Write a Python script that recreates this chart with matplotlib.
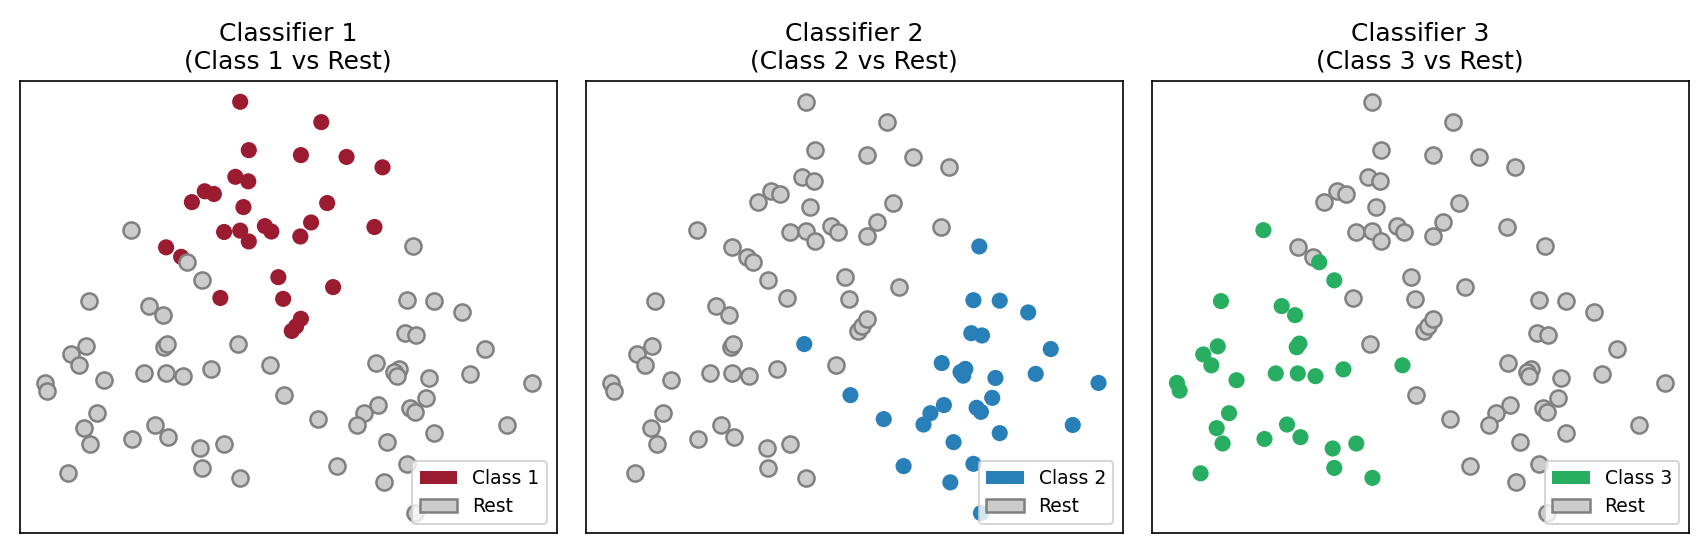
import matplotlib
matplotlib.use('Agg')
import matplotlib.pyplot as plt
from matplotlib.patches import Patch

# 三类样本的坐标
class1_x = [41.1, 42.7, 40.2, 42.6, 34.5, 36.2, 32.1, 41.7, 45.7, 46.9,
            38.1, 41.1, 42.7, 27.3, 30.1, 48.2, 37.4, 49.1, 50.7, 51.5,
            52.4, 56.2, 52.4, 60.9, 67.6, 57.3, 54.3, 52.3, 66.1, 58.4]
class1_y = [95.4, 84.7, 78.8, 77.8, 75.6, 75.0, 73.2, 72.1, 67.9, 66.7,
            66.6, 66.9, 64.5, 63.2, 61.1, 56.6, 52.0, 51.8, 44.7, 45.7,
            47.4, 90.9, 83.6, 83.2, 80.9, 73.0, 68.7, 65.6, 67.7, 54.4]

class2_x = [40.7, 49.3, 73.3, 72.2, 77.1, 82.4, 71.8, 73.8, 86.6, 66.3,
            70.7, 69.8, 70.3, 76.3, 83.8, 95.5, 75.7, 66.7, 64.2, 62.9,
            72.8, 73.6, 55.5, 90.7, 77.1, 68.5, 59.2, 72.2, 67.9, 73.6]
class2_y = [41.8, 30.5, 63.4, 51.5, 51.4, 48.8, 44.2, 43.7, 40.7, 37.6,
            36.3, 35.6, 34.8, 34.3, 35.2, 33.2, 29.9, 28.3, 26.5, 24.0,
            27.7, 26.8, 25.2, 23.9, 22.1, 20.1, 14.8, 15.3, 11.2, 4.4]

class3_x = [20.8, 31.2, 34.0, 12.9, 24.2, 26.7, 12.3, 9.6, 11.1, 27.0,
            27.5, 46.7, 4.7, 5.2, 15.8, 23.1, 27.2, 30.5, 35.7, 14.4,
            12.1, 13.2, 21.0, 25.2, 27.7, 33.7, 38.1, 34.0, 41.1, 9.1]
class3_y = [67.0, 59.9, 55.9, 51.3, 50.2, 48.2, 41.3, 39.5, 37.1, 41.1,
            41.9, 37.1, 33.2, 31.5, 33.8, 35.3, 35.3, 34.7, 36.2, 26.5,
            23.2, 19.8, 20.8, 24.0, 21.2, 18.7, 19.8, 14.4, 12.2, 13.2]

class_x = [class1_x, class2_x, class3_x]
class_y = [class1_y, class2_y, class3_y]
class_colors = ['#9b1b30', '#2980b9', '#27ae60']
rest_face = '#cccccc'
rest_edge = '#808080'

fig = plt.figure(figsize=(1708 / 150, 553 / 150), dpi=150)

lefts = [19.5, 585.7, 1151.7]
for k in range(3):
    ax = fig.add_axes([lefts[k] / 1708, 20 / 553, 537 / 1708, 452 / 553])
    # 按类别顺序绘制, 当前类别着色, 其余为灰色
    for j in range(3):
        if j == k:
            ax.scatter(class_x[j], class_y[j], s=60, color=class_colors[k],
                       edgecolors='none', zorder=2)
        else:
            ax.scatter(class_x[j], class_y[j], s=60, facecolor=rest_face,
                       edgecolors=rest_edge, linewidths=1.2, zorder=2)
    ax.set_xlim(0, 100)
    ax.set_ylim(0, 100)
    ax.set_xticks([])
    ax.set_yticks([])
    ax.set_title(f'Classifier {k + 1}\n(Class {k + 1} vs Rest)', fontsize=12)
    handles = [Patch(facecolor=class_colors[k], label=f'Class {k + 1}'),
               Patch(facecolor=rest_face, edgecolor=rest_edge, linewidth=1.2, label='Rest')]
    ax.legend(handles=handles, loc='lower right', fontsize=9)

fig.savefig('out.png', dpi=150)
